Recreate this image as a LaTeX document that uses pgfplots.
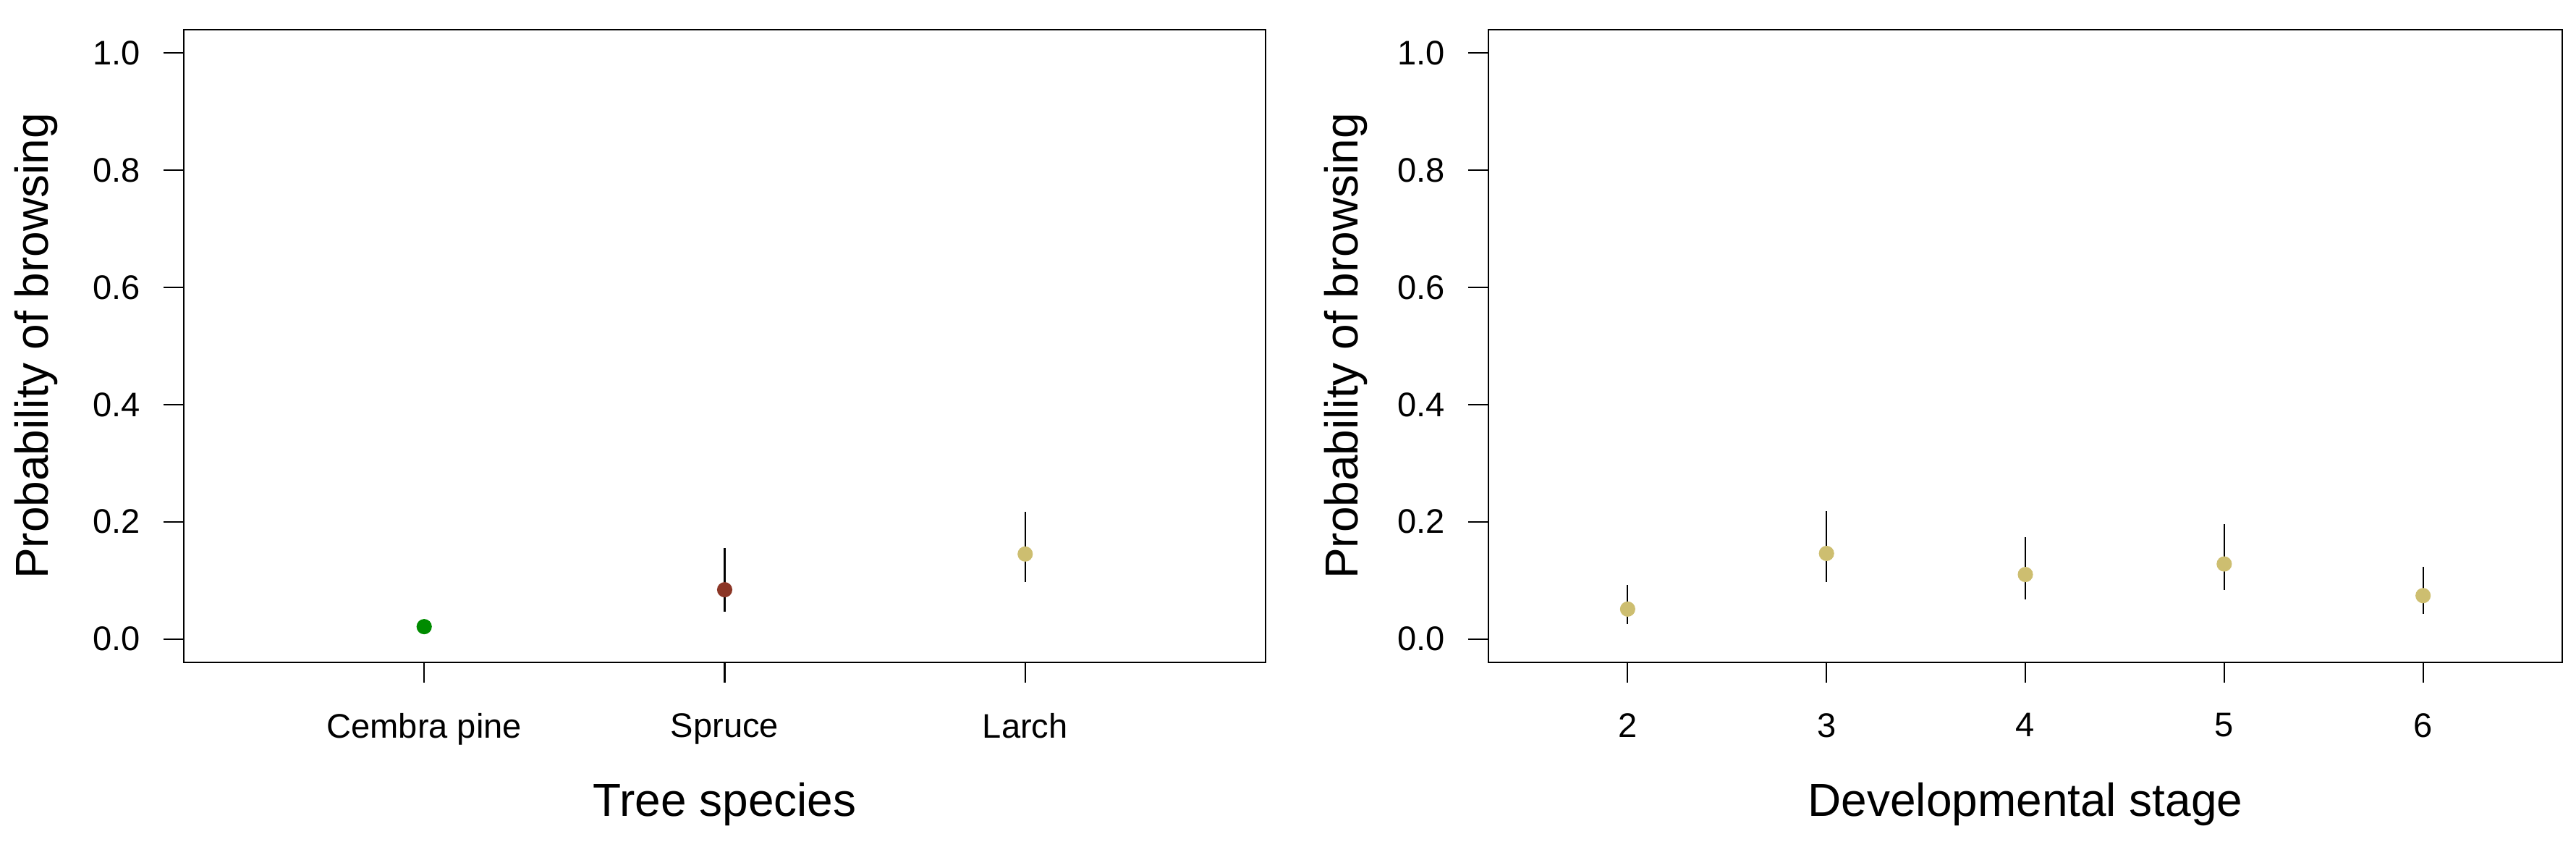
\documentclass[border=0pt]{standalone}
\usepackage{pgfplots}
\pgfplotsset{compat=1.18}
\usepackage{fontspec}
\setmainfont{Liberation Sans}

\definecolor{cembra}{RGB}{0,139,0}
\definecolor{spruce}{RGB}{139,54,38}
\definecolor{larch}{RGB}{205,190,112}

\pgfplotsset{
  browse/.style={
    scale only axis,
    height=8.74cm,
    ymin=-0.04, ymax=1.04,
    ytick={0,0.2,0.4,0.6,0.8,1},
    yticklabels={0.0,0.2,0.4,0.6,0.8,1.0},
    xtick pos=bottom, ytick pos=left,
    tick align=outside,
    major tick length=0.28cm,
    axis line style={line width=0.8pt},
    every tick/.style={black, line width=0.6pt},
    tick label style={font=\fontsize{13.4}{15}\selectfont},
    xticklabel style={yshift=-0.3cm},
    yticklabel style={xshift=-0.2cm},
    label style={font=\fontsize{18.2}{21}\selectfont},
    ylabel={Probability of browsing},
    clip=false,
  },
  pt/.style={only marks, mark=*, mark size=2.8pt, color=#1,
    mark options={draw=#1, fill=#1},
    error bars/.cd, y dir=both, y explicit,
    error bar style={black, line width=0.6pt}, error mark=none},
}

\begin{document}
\begin{tikzpicture}
\path[use as bounding box] (0,0) rectangle (35.6cm,11.7cm);

% left panel: tree species
\begin{axis}[browse,
  at={(2.54cm,2.55cm)}, anchor=south west,
  width=14.95cm,
  xmin=0.2, xmax=3.8,
  xtick={1,2,3},
  xticklabels={Cembra pine,Spruce,Larch},
  xlabel={Tree species},
  ylabel style={at={(axis description cs:-0.1365,0.5)}, anchor=center},
  xlabel style={at={(axis description cs:0.5,-0.224)}, anchor=center},
]
\addplot[pt=cembra] table[x=x, y=y, y error plus=ep, y error minus=em] {
x y ep em
1 0.021 0 0
};
\addplot[pt=spruce] table[x=x, y=y, y error plus=ep, y error minus=em] {
x y ep em
2 0.084 0.071 0.038
};
\addplot[pt=larch] table[x=x, y=y, y error plus=ep, y error minus=em] {
x y ep em
3 0.145 0.072 0.048
};
\end{axis}

% right panel: developmental stage
\begin{axis}[browse,
  at={(20.57cm,2.55cm)}, anchor=south west,
  width=14.84cm,
  xmin=1.3, xmax=6.7,
  xtick={2,3,4,5,6},
  xlabel={Developmental stage},
  ylabel style={at={(axis description cs:-0.133,0.5)}, anchor=center},
  xlabel style={at={(axis description cs:0.5,-0.224)}, anchor=center},
  xticklabel style={/pgf/number format/assume math mode=true},
]
\addplot[pt=larch] table[x=x, y=y, y error plus=ep, y error minus=em] {
x y ep em
2 0.051 0.041 0.026
3 0.146 0.072 0.049
4 0.110 0.064 0.042
5 0.128 0.068 0.045
6 0.074 0.049 0.031
};
\end{axis}
\end{tikzpicture}
\end{document}
